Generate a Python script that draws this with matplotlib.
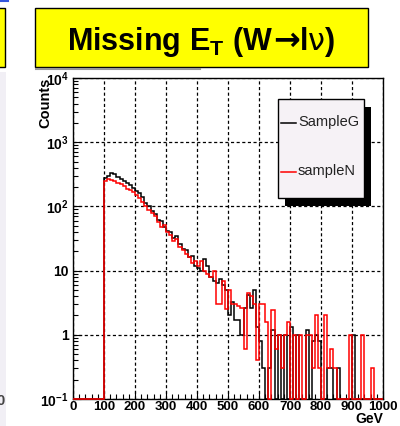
import numpy as np
import matplotlib.pyplot as plt
from matplotlib.patches import Rectangle
from matplotlib.lines import Line2D
from matplotlib.ticker import MultipleLocator, LogLocator, NullFormatter
from matplotlib.offsetbox import TextArea, HPacker, AnchoredOffsetbox

plt.rcParams['font.family'] = ['Liberation Sans', 'DejaVu Sans']
plt.rcParams['mathtext.fontset'] = 'custom'
plt.rcParams['mathtext.rm'] = 'Liberation Sans:bold'
plt.rcParams['mathtext.bf'] = 'Liberation Sans:bold'
plt.rcParams['mathtext.it'] = 'Liberation Sans:bold'

# histogram contents, 10 GeV bins from 100 to 1000 GeV (0 = empty bin)
bin_lo = 100
bin_w = 10
sample_g = [280, 300, 330, 320, 290, 270, 250, 235, 215, 195,
            175, 160, 140, 115, 100, 85, 75, 62, 60, 48,
            42, 40, 32, 34, 26, 22, 21, 16, 17, 12,
            11, 10, 15, 12, 8, 7, 6.5, 7.5, 6, 5,
            2, 3.3, 1.7, 1.7, 1, 2.6, 4.2, 2.6, 5, 1.3,
            0.8, 0.3, 0, 0.3, 1.2, 0, 1, 0, 1, 0,
            1.3, 0, 1, 0, 0, 1.2, 0, 0.8, 1, 0.8,
            0, 0, 0.3, 0.3, 0, 0.3, 0, 0, 0, 0,
            1, 0, 0, 0, 0, 0, 0, 0, 0, 0]
sample_n = [250, 265, 262, 250, 235, 220, 205, 190, 178, 165,
            150, 135, 118, 100, 88, 78, 70, 58, 48, 52,
            40, 36, 29, 31, 23, 21, 18, 16, 13, 14,
            12, 14, 10, 9, 8, 10, 3, 3, 7, 2.5,
            5, 3, 3, 2.8, 2.6, 0.6, 4.5, 4, 3, 0.4,
            3, 3, 1.6, 0, 2.4, 0.6, 1, 0.3, 1, 1.6,
            0, 1, 0, 1, 0, 1, 1, 0.3, 2, 0.3,
            0, 2, 0.3, 0.6, 0.3, 0, 0, 0, 0, 1,
            0, 0, 0, 1, 0, 0, 0.3, 0, 0, 0]
names = ["SampleG", "sampleN"]
colors = ["black", "#ff0000"]

y_ticks = [0.1, 1, 10, 100, 1000, 10000]
y_labels = [r"$10^{-1}$", "1", "10", r"$10^{2}$", r"$10^{3}$", r"$10^{4}$"]
x_ticks = list(range(0, 1001, 100))

W, H = 400, 426
fig = plt.figure(figsize=(W / 100, H / 100), dpi=100)


def fx(px):
    return px / W


def fy(py):
    return 1 - py / H


ax = fig.add_axes([fx(73), fy(399), fx(383) - fx(73), fy(78) - fy(399)])
ax.set_yscale('log')
ax.set_xlim(0, 1000)
ax.set_ylim(0.1, 1e4)

ymin = 0.1
edges = np.concatenate([[0], np.arange(bin_lo, 1000 + bin_w, bin_w)])
for vals, c in zip([sample_g, sample_n], colors):
    v = np.maximum(np.concatenate([[0], vals]), ymin)
    ax.stairs(v, edges, baseline=None, color=c, lw=1.1, clip_on=False, zorder=3)

ax.set_xticks(x_ticks)
ax.set_xticklabels([str(t) for t in x_ticks])
ax.xaxis.set_minor_locator(MultipleLocator(20))
ax.set_yticks(y_ticks)
ax.set_yticklabels(y_labels)
ax.yaxis.set_minor_locator(LogLocator(base=10, subs=np.arange(2, 10)))
ax.yaxis.set_minor_formatter(NullFormatter())

ax.grid(True, which='major', color='black', ls=(0, (2.5, 2.0)), lw=0.9)
ax.tick_params(which='both', direction='in', top=False, right=False,
               labelsize=10, width=0.8)
ax.tick_params(axis='x', pad=1.5, labelsize=9.5)
ax.tick_params(axis='y', pad=3)
ax.tick_params(which='major', length=6)
ax.tick_params(which='minor', length=3.5)
for lab in ax.get_xticklabels() + ax.get_yticklabels():
    lab.set_fontweight('bold')
for s in ax.spines.values():
    s.set_linewidth(1.0)

fig.text(fx(45), fy(78), "Counts", rotation=90, ha='center', va='top',
         fontsize=10.5, fontweight='bold')
fig.text(fx(383), fy(426), "GeV", ha='right', va='bottom',
         fontsize=10, fontweight='bold')

# legend box drawn ROOT style with a solid shadow
fig.add_artist(Rectangle((fx(285), fy(206)), fx(86), 99 / H,
                         facecolor='black', edgecolor='none', zorder=5))
fig.add_artist(Rectangle((fx(278), fy(198)), fx(86), 99 / H,
                         facecolor='#f6f2f6', edgecolor='black', lw=1.0, zorder=6))
for name, c, py in zip(names, colors, [122, 171]):
    fig.add_artist(Line2D([fx(281), fx(296)], [fy(py + 1), fy(py + 1)],
                          color=c, lw=1.1, zorder=7))
    fig.text(fx(298), fy(py), name, ha='left', va='center', fontsize=10.5,
             color='#222222', zorder=7)

# title banner
fig.add_artist(Rectangle((fx(35), fy(67)), fx(333), 59 / H,
                         facecolor='#ffff00', edgecolor='black', lw=1.0))
fig.add_artist(Line2D([fx(36), fx(200)], [fy(68.5), fy(68.5)],
                      color='#999999', lw=1.5))
bold = dict(fontsize=22, fontweight='bold', family=['Liberation Sans'])
parts = [
    TextArea(r"Missing E$_{\rm T}$ (W", textprops=bold),
    TextArea("→", textprops=dict(fontsize=23, fontweight='bold', family=['DejaVu Sans'])),
    TextArea("l", textprops=bold),
    TextArea("ν", textprops=dict(fontsize=22, family=['DejaVu Sans'])),
    TextArea(")", textprops=bold),
]
title = HPacker(children=parts, align='baseline', pad=0, sep=0)
fig.add_artist(AnchoredOffsetbox(loc='center', child=title, frameon=False,
                                 bbox_to_anchor=(fx(201), fy(42)),
                                 bbox_transform=fig.transFigure, pad=0, borderpad=0))

# neighbouring slide fragments on the left edge
fig.add_artist(Rectangle((fx(-5), fy(67)), fx(10), 59 / H,
                         facecolor='#ffff00', edgecolor='black', lw=1.0))
fig.add_artist(Rectangle((0, 0), fx(6), fy(72),
                         facecolor='#f1eff5', edgecolor='none'))
fig.add_artist(Line2D([0, fx(8)], [fy(1), fy(1)], color='#3355dd', lw=1.5))
fig.text(fx(-4), fy(401), "0", ha='left', va='center', fontsize=10.5,
         fontweight='bold', color='#444444')

fig.savefig("out.png", dpi=100)
